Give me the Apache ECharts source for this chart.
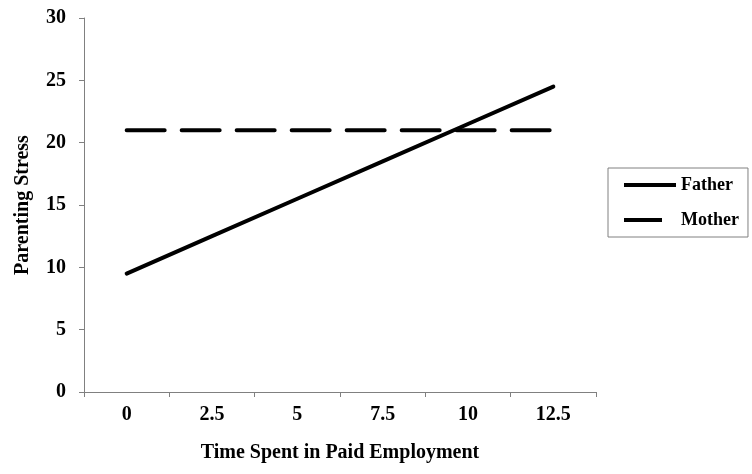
<!DOCTYPE html>
<html>
<head>
<meta charset="utf-8">
<script src="https://cdn.jsdelivr.net/npm/echarts@6/dist/echarts.min.js"></script>
<style>
html,body{margin:0;padding:0;background:#fff;}
#chart{width:752px;height:474px;}
</style>
</head>
<body>
<div id="chart"></div>
<script>
var categories = ['0', '2.5', '5', '7.5', '10', '12.5'];
var fatherValues = [9.5, 12.5, 15.5, 18.5, 21.5, 24.5];
var motherValues = [21, 21, 21, 21, 21, 21];
var yTicks = [0, 5, 10, 15, 20, 25, 30];
var seriesNames = ['Father', 'Mother'];

var font = '"Liberation Serif", "Times New Roman", serif';
var chart = echarts.init(document.getElementById('chart'));
chart.setOption({
  animation: false,
  backgroundColor: '#ffffff',
  grid: { left: 84, right: 156, top: 18, bottom: 82 },
  legend: {
    left: 608, top: 168,
    orient: 'vertical',
    borderColor: '#808080', borderWidth: 1,
    padding: [8, 9, 8, 16],
    itemWidth: 52, itemHeight: 4, itemGap: 17,
    textStyle: { fontFamily: font, fontWeight: 'bold', fontSize: 18, color: '#000' },
    data: [
      { name: seriesNames[0], icon: 'path://M0,0 L52,0 L52,4 L0,4 Z' },
      { name: seriesNames[1], icon: 'path://M0,0 L38,0 L38,4 L0,4 Z M52,0 L52,4' }
    ]
  },
  xAxis: {
    type: 'category',
    data: categories,
    boundaryGap: true,
    name: 'Time Spent in Paid Employment',
    nameLocation: 'middle',
    nameGap: 51,
    nameTextStyle: { fontFamily: font, fontWeight: 'bold', fontSize: 20, color: '#000' },
    axisLine: { lineStyle: { color: '#808080', width: 1 } },
    axisTick: { show: true, length: 5, lineStyle: { color: '#808080' } },
    axisLabel: { fontFamily: font, fontWeight: 'bold', fontSize: 20, color: '#000', margin: 13 },
    splitLine: { show: false }
  },
  yAxis: {
    type: 'value',
    min: yTicks[0], max: yTicks[yTicks.length - 1], interval: 5,
    name: 'Parenting Stress',
    nameLocation: 'middle',
    nameGap: 51,
    nameTextStyle: { fontFamily: font, fontWeight: 'bold', fontSize: 20, color: '#000' },
    axisLine: { show: true, lineStyle: { color: '#808080', width: 1 } },
    axisTick: { show: true, length: 5, lineStyle: { color: '#808080' } },
    axisLabel: { fontFamily: font, fontWeight: 'bold', fontSize: 20, color: '#000', margin: 18 },
    splitLine: { show: false }
  },
  series: [
    {
      name: seriesNames[0], type: 'line', data: fatherValues,
      symbol: 'none', color: '#000',
      lineStyle: { color: '#000', width: 4, cap: 'round' }
    },
    {
      name: seriesNames[1], type: 'line', data: motherValues,
      symbol: 'none', color: '#000',
      lineStyle: { color: '#000', width: 4, type: [38, 17], cap: 'round' }
    }
  ]
});
</script>
</body>
</html>
